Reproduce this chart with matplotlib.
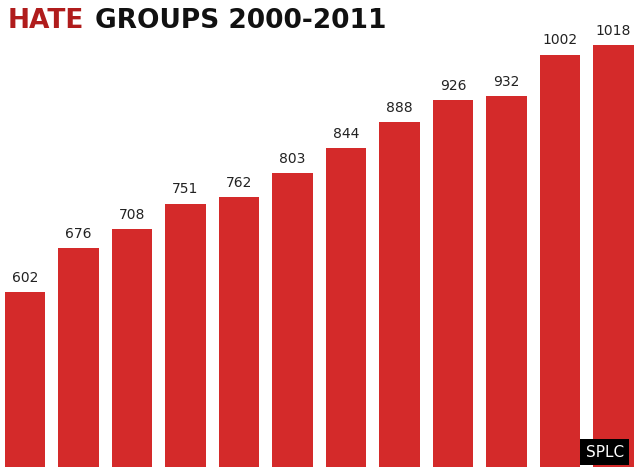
import matplotlib
matplotlib.use("Agg")
import matplotlib.pyplot as plt

years = list(range(2000, 2012))
values = [602, 676, 708, 751, 762, 803, 844, 888, 926, 932, 1002, 1018]

fig = plt.figure(figsize=(6.4, 4.67), dpi=100)
ax = fig.add_axes([0, 0, 1, 1])
x = list(range(len(values)))
ax.bar(x, values, width=0.75, color="#d42a2a", zorder=2)
for xi, v in zip(x, values):
    ax.text(xi, v + 12, str(v), ha="center", va="bottom", fontsize=10, color="#222222", zorder=3)
ax.set_xlim(-0.467, 11.495)
ax.set_ylim(307, 1094)
ax.axis("off")

fig.text(0.012, 0.955, "HATE", color="#b01c1c", fontsize=19, fontweight="heavy", va="center", family="DejaVu Sans")
fig.text(0.148, 0.955, "GROUPS 2000-2011", color="#111111", fontsize=19, fontweight="heavy", va="center", family="DejaVu Sans")
fig.text(0.945, 0.032, "SPLC", color="white", fontsize=11, ha="center", va="center",
         bbox=dict(facecolor="black", edgecolor="none", pad=4))
fig.savefig("out.png", dpi=100)
